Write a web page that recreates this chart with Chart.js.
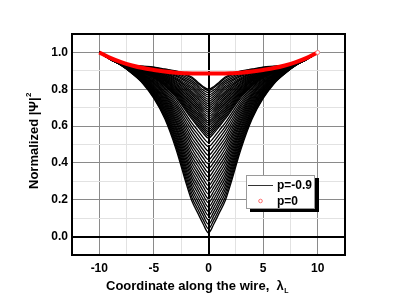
<!DOCTYPE html>
<html>
<head>
<meta charset="utf-8">
<script src="https://cdn.jsdelivr.net/npm/chart.js@4.4.1/dist/chart.umd.min.js"></script>
<style>
    html, body { margin: 0; padding: 0; background: #fff; }
    #wrap { width: 400px; height: 306px; }
</style>
</head>
<body>
<div id="wrap"><canvas id="grafico" width="400" height="306"></canvas></div>
<script>
// posições ao longo do fio (meia curva, x >= 0; o gráfico é simétrico)
const xHalf = [0, 0.5, 1, 1.5, 2, 3, 4, 5, 6, 7, 8, 9, 10];

// p = 0 (curva vermelha)
const redHalf = [0.885, 0.885, 0.8855, 0.886, 0.887, 0.890, 0.896, 0.905, 0.915, 0.929, 0.947, 0.970, 1.0];

// família de curvas pretas, da mais funda (p=-0.9) até a de cima
const blackHalf = [
    [0.020, 0.070, 0.130, 0.190, 0.280, 0.480, 0.640, 0.750, 0.830, 0.885, 0.930, 0.962, 1],
    [0.043, 0.092, 0.151, 0.210, 0.298, 0.493, 0.648, 0.755, 0.833, 0.886, 0.930, 0.962, 1],
    [0.067, 0.115, 0.173, 0.231, 0.316, 0.505, 0.656, 0.760, 0.836, 0.888, 0.931, 0.962, 1],
    [0.090, 0.137, 0.194, 0.251, 0.334, 0.518, 0.664, 0.765, 0.839, 0.889, 0.931, 0.962, 1],
    [0.114, 0.159, 0.215, 0.271, 0.352, 0.530, 0.672, 0.770, 0.841, 0.890, 0.932, 0.963, 1],
    [0.137, 0.182, 0.237, 0.291, 0.370, 0.543, 0.681, 0.776, 0.844, 0.892, 0.932, 0.963, 1],
    [0.160, 0.204, 0.258, 0.312, 0.388, 0.556, 0.689, 0.781, 0.847, 0.893, 0.933, 0.963, 1],
    [0.184, 0.226, 0.279, 0.332, 0.406, 0.568, 0.697, 0.786, 0.850, 0.894, 0.933, 0.963, 1],
    [0.207, 0.249, 0.300, 0.352, 0.424, 0.581, 0.705, 0.791, 0.853, 0.896, 0.934, 0.963, 1],
    [0.231, 0.271, 0.322, 0.372, 0.442, 0.593, 0.713, 0.796, 0.856, 0.897, 0.934, 0.963, 1],
    [0.254, 0.294, 0.343, 0.393, 0.460, 0.606, 0.721, 0.801, 0.859, 0.899, 0.935, 0.964, 1],
    [0.277, 0.316, 0.364, 0.413, 0.478, 0.619, 0.729, 0.806, 0.861, 0.900, 0.935, 0.964, 1],
    [0.301, 0.338, 0.386, 0.433, 0.496, 0.631, 0.737, 0.811, 0.864, 0.901, 0.935, 0.964, 1],
    [0.324, 0.361, 0.407, 0.453, 0.514, 0.644, 0.745, 0.816, 0.867, 0.903, 0.936, 0.964, 1],
    [0.348, 0.383, 0.428, 0.474, 0.532, 0.656, 0.753, 0.821, 0.870, 0.904, 0.936, 0.964, 1],
    [0.371, 0.405, 0.450, 0.494, 0.550, 0.669, 0.762, 0.827, 0.873, 0.905, 0.937, 0.964, 1],
    [0.394, 0.428, 0.471, 0.514, 0.568, 0.682, 0.770, 0.832, 0.876, 0.907, 0.937, 0.964, 1],
    [0.418, 0.450, 0.492, 0.534, 0.586, 0.694, 0.778, 0.837, 0.878, 0.908, 0.938, 0.965, 1],
    [0.441, 0.472, 0.513, 0.555, 0.604, 0.707, 0.786, 0.842, 0.881, 0.909, 0.938, 0.965, 1],
    [0.465, 0.495, 0.535, 0.575, 0.622, 0.719, 0.794, 0.847, 0.884, 0.911, 0.939, 0.965, 1],
    [0.488, 0.517, 0.556, 0.595, 0.640, 0.732, 0.802, 0.852, 0.887, 0.912, 0.939, 0.965, 1],
    [0.511, 0.539, 0.577, 0.615, 0.658, 0.745, 0.810, 0.857, 0.890, 0.913, 0.939, 0.965, 1],
    [0.535, 0.562, 0.599, 0.636, 0.676, 0.757, 0.818, 0.862, 0.893, 0.915, 0.940, 0.965, 1],
    [0.547, 0.573, 0.609, 0.646, 0.685, 0.764, 0.822, 0.865, 0.894, 0.915, 0.940, 0.965, 1],
    [0.558, 0.584, 0.620, 0.656, 0.694, 0.770, 0.826, 0.867, 0.896, 0.916, 0.940, 0.965, 1],
    [0.570, 0.595, 0.631, 0.666, 0.703, 0.776, 0.830, 0.870, 0.897, 0.917, 0.941, 0.966, 1],
    [0.582, 0.606, 0.641, 0.676, 0.712, 0.782, 0.834, 0.872, 0.898, 0.917, 0.941, 0.966, 1],
    [0.593, 0.618, 0.652, 0.686, 0.721, 0.789, 0.838, 0.875, 0.900, 0.918, 0.941, 0.966, 1],
    [0.605, 0.629, 0.663, 0.696, 0.730, 0.795, 0.843, 0.878, 0.901, 0.919, 0.941, 0.966, 1],
    [0.617, 0.640, 0.673, 0.706, 0.739, 0.801, 0.847, 0.880, 0.903, 0.919, 0.941, 0.966, 1],
    [0.628, 0.651, 0.684, 0.717, 0.748, 0.808, 0.851, 0.883, 0.904, 0.920, 0.942, 0.966, 1],
    [0.640, 0.662, 0.694, 0.727, 0.757, 0.814, 0.855, 0.885, 0.906, 0.921, 0.942, 0.966, 1],
    [0.652, 0.673, 0.705, 0.737, 0.766, 0.820, 0.859, 0.888, 0.907, 0.921, 0.942, 0.966, 1],
    [0.664, 0.685, 0.716, 0.747, 0.775, 0.827, 0.863, 0.890, 0.908, 0.922, 0.942, 0.966, 1],
    [0.675, 0.696, 0.726, 0.757, 0.784, 0.833, 0.867, 0.893, 0.910, 0.923, 0.943, 0.966, 1],
    [0.687, 0.707, 0.737, 0.767, 0.793, 0.839, 0.871, 0.895, 0.911, 0.923, 0.943, 0.966, 1],
    [0.699, 0.718, 0.748, 0.777, 0.802, 0.845, 0.875, 0.898, 0.913, 0.924, 0.943, 0.966, 1],
    [0.710, 0.729, 0.758, 0.787, 0.811, 0.852, 0.879, 0.900, 0.914, 0.925, 0.943, 0.966, 1],
    [0.722, 0.741, 0.769, 0.798, 0.820, 0.858, 0.883, 0.903, 0.916, 0.926, 0.944, 0.967, 1],
    [0.734, 0.752, 0.780, 0.808, 0.829, 0.864, 0.887, 0.906, 0.917, 0.926, 0.944, 0.967, 1],
    [0.745, 0.763, 0.790, 0.818, 0.838, 0.871, 0.891, 0.908, 0.918, 0.927, 0.944, 0.967, 1],
    [0.757, 0.774, 0.801, 0.828, 0.847, 0.877, 0.895, 0.911, 0.920, 0.928, 0.944, 0.967, 1],
    [0.769, 0.785, 0.812, 0.838, 0.856, 0.883, 0.899, 0.913, 0.921, 0.928, 0.944, 0.967, 1],
    [0.781, 0.796, 0.822, 0.848, 0.865, 0.890, 0.903, 0.916, 0.923, 0.929, 0.945, 0.967, 1],
    [0.792, 0.808, 0.833, 0.858, 0.874, 0.896, 0.907, 0.918, 0.924, 0.930, 0.945, 0.967, 1],
    [0.800, 0.815, 0.840, 0.865, 0.880, 0.900, 0.910, 0.920, 0.925, 0.930, 0.945, 0.967, 1]
];

// rótulos dos eixos
const xMajor = [-10, -5, 0, 5, 10];
const yMajor = ['0.0', '0.2', '0.4', '0.6', '0.8', '1.0'];
const legendLabels = ['p=-0.9', 'p=0'];

const FONTE = '"Liberation Sans", Arial, sans-serif';

// monta a curva inteira a partir da metade (x negativo espelhado)
function espelhar(meia) {
    const pts = [];
    for (let i = xHalf.length - 1; i > 0; i--) pts.push({ x: -xHalf[i], y: meia[i] });
    for (let i = 0; i < xHalf.length; i++) pts.push({ x: xHalf[i], y: meia[i] });
    return pts;
}

const datasets = [];
const ultimo = xHalf.length * 2 - 2;
datasets.push({
    label: legendLabels[1],
    data: espelhar(redHalf),
    borderColor: '#ff0000',
    borderWidth: 4,
    showLine: true,
    cubicInterpolationMode: 'monotone',
    pointRadius: ctx => ctx.dataIndex === ultimo ? 2 : 0,
    pointBackgroundColor: '#ffffff',
    pointBorderColor: '#ff8080',
    pointBorderWidth: 1,
    order: 0
});
blackHalf.forEach((linha, i) => {
    datasets.push({
        label: i === 0 ? legendLabels[0] : '',
        data: espelhar(linha),
        borderColor: '#000000',
        borderWidth: 1.3,
        showLine: true,
        cubicInterpolationMode: 'monotone',
        pointRadius: 0,
        order: 1
    });
});

function corGradeX(v) {
    if (v === 0) return '#000000';
    if (v % 5 === 0) return '#8a8a8a';
    return '#e2e2e2';
}
function corGradeY(v) {
    const k = Math.round(v * 10);
    if (k === 0) return '#000000';
    if (k % 2 === 0) return '#8a8a8a';
    return '#e2e2e2';
}

// moldura, títulos e legenda desenhados por cima
const extras = {
    id: 'extras',
    afterDraw(chart) {
        const ctx = chart.ctx;
        const a = chart.chartArea;
        ctx.save();

        // moldura
        ctx.strokeStyle = '#000';
        ctx.lineWidth = 2;
        ctx.strokeRect(a.left, a.top, a.right - a.left, a.bottom - a.top);

        // título do eixo y: Normalized |Ψ|²
        ctx.fillStyle = '#000';
        ctx.save();
        ctx.translate(34, 141);
        ctx.rotate(-Math.PI / 2);
        ctx.font = 'bold 13px ' + FONTE;
        const t1 = 'Normalized |\u03A8|';
        const w1 = ctx.measureText(t1).width;
        ctx.font = 'bold 8px ' + FONTE;
        const w2 = ctx.measureText('2').width;
        const ini = -(w1 + w2) / 2;
        ctx.textBaseline = 'middle';
        ctx.textAlign = 'left';
        ctx.font = 'bold 13px ' + FONTE;
        ctx.fillText(t1, ini, 0);
        ctx.font = 'bold 8px ' + FONTE;
        ctx.fillText('2', ini + w1 + 0.5, -5);
        ctx.restore();

        // título do eixo x: Coordinate along the wire, λL
        ctx.font = 'bold 13px ' + FONTE;
        const tx = 'Coordinate along the wire,  \u03BB';
        const wx = ctx.measureText(tx).width;
        ctx.font = 'bold 7px ' + FONTE;
        const ws = ctx.measureText('L').width;
        const x0 = 197 - (wx + ws) / 2;
        ctx.textBaseline = 'alphabetic';
        ctx.textAlign = 'left';
        ctx.font = 'bold 13px ' + FONTE;
        ctx.fillText(tx, x0, 290);
        ctx.font = 'bold 7px ' + FONTE;
        ctx.fillText('L', x0 + wx + 0.5, 293);

        // legenda com sombra
        ctx.fillStyle = '#000';
        ctx.fillRect(250, 178, 69, 34);
        ctx.fillStyle = '#fff';
        ctx.fillRect(246, 175, 69, 34);
        ctx.strokeStyle = '#9a9a9a';
        ctx.lineWidth = 1;
        ctx.strokeRect(246.5, 175.5, 68, 33);

        ctx.strokeStyle = '#333';
        ctx.beginPath();
        ctx.moveTo(248, 185.5);
        ctx.lineTo(273, 185.5);
        ctx.stroke();

        ctx.strokeStyle = '#ff7070';
        ctx.beginPath();
        ctx.arc(260.5, 201, 1.8, 0, Math.PI * 2);
        ctx.stroke();

        ctx.fillStyle = '#000';
        ctx.font = 'bold 12px ' + FONTE;
        ctx.textBaseline = 'middle';
        ctx.fillText(legendLabels[0], 277, 185.5);
        ctx.fillText(legendLabels[1], 277, 201.5);

        ctx.restore();
    }
};

function criarGrafico() {
    const canvas = document.getElementById('grafico');
    const ctx = canvas.getContext('2d');

    new Chart(ctx, {
        type: 'scatter',
        data: { datasets: datasets },
        options: {
            responsive: false,
            animation: false,
            layout: { padding: { left: 0, right: 55, top: 34, bottom: 0 } },
            plugins: {
                legend: { display: false },
                tooltip: { enabled: false }
            },
            scales: {
                x: {
                    type: 'linear',
                    min: -12.5,
                    max: 12.5,
                    afterFit: s => { s.height = 51; },
                    border: { display: false },
                    grid: {
                        drawTicks: false,
                        color: c => corGradeX(c.tick.value),
                        lineWidth: c => c.tick.value === 0 ? 2 : 1
                    },
                    ticks: {
                        stepSize: 2.5,
                        autoSkip: false,
                        maxRotation: 0,
                        padding: 6,
                        color: '#000',
                        font: { family: FONTE, size: 12, weight: 'bold' },
                        callback: v => xMajor.includes(v) ? String(v) : ''
                    }
                },
                y: {
                    type: 'linear',
                    min: -0.1,
                    max: 1.1,
                    afterFit: s => { s.width = 72; },
                    border: { display: false },
                    grid: {
                        drawTicks: false,
                        color: c => corGradeY(c.tick.value),
                        lineWidth: c => Math.round(c.tick.value * 10) === 0 ? 2 : 1
                    },
                    ticks: {
                        stepSize: 0.1,
                        autoSkip: false,
                        padding: 4,
                        color: '#000',
                        font: { family: FONTE, size: 12, weight: 'bold' },
                        callback: v => {
                            const k = Math.round(v * 10);
                            return (k >= 0 && k % 2 === 0) ? yMajor[k / 2] : '';
                        }
                    }
                }
            }
        },
        plugins: [extras]
    });
}

criarGrafico();
</script>
</body>
</html>
